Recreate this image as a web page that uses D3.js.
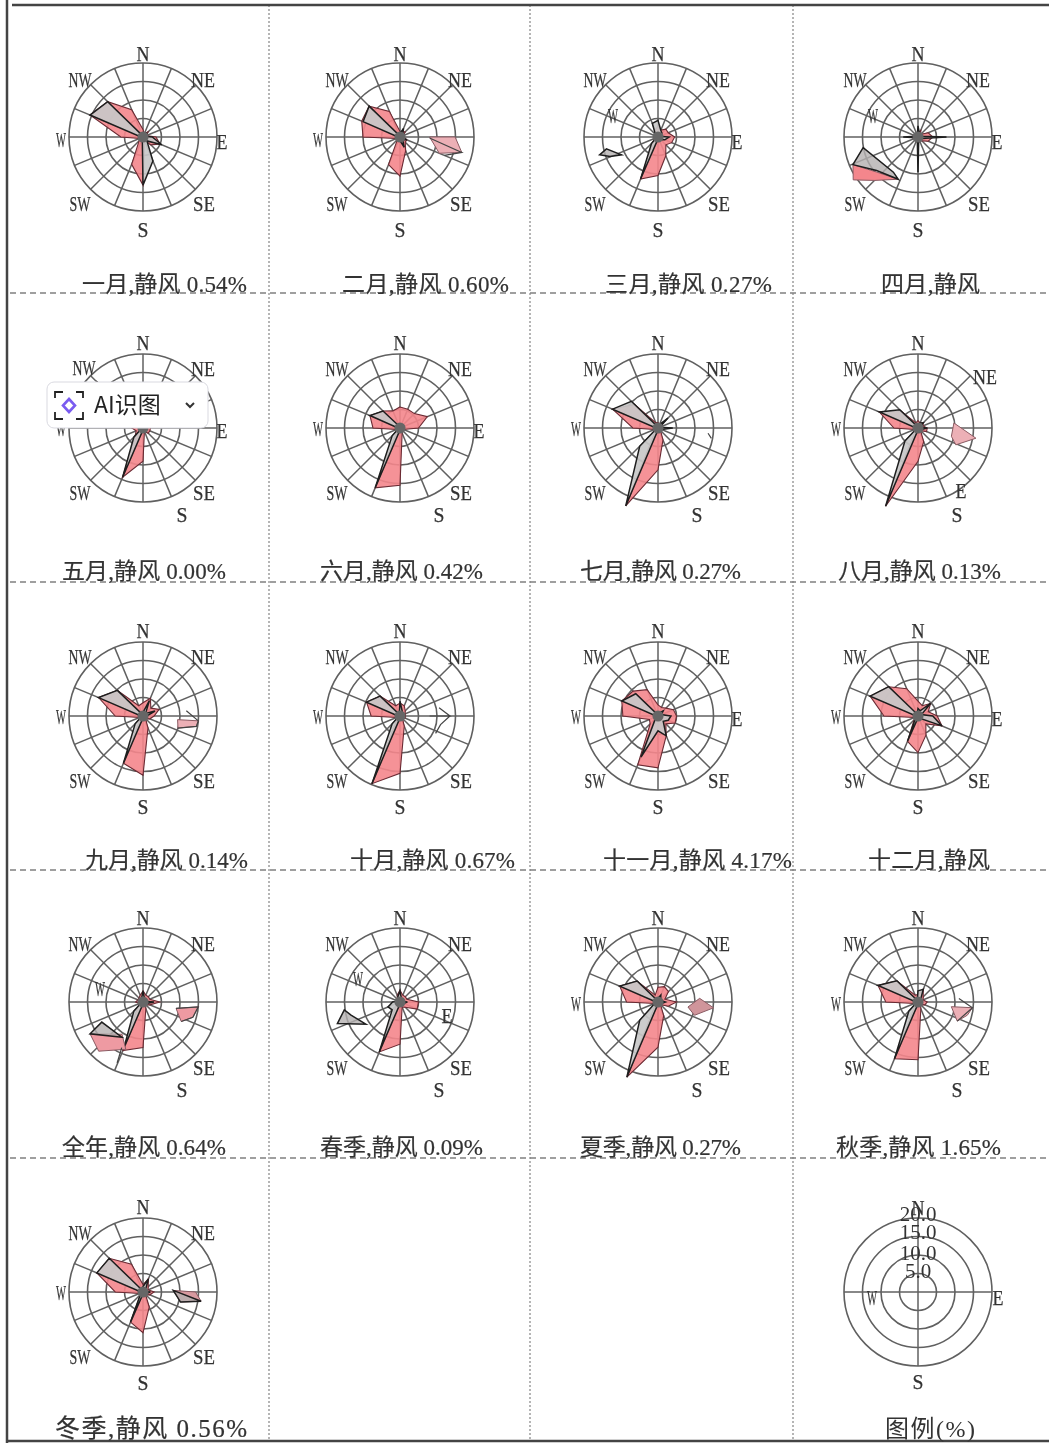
<!DOCTYPE html>
<html lang="zh">
<head>
<meta charset="UTF-8">
<title>风玫瑰图</title>
<script src="https://cdn.jsdelivr.net/npm/d3@7"></script>
<style>
  html, body { margin: 0; padding: 0; background: #fff; }
  svg { display: block; }
</style>
</head>
<body>
<div id="chart"></div>
<script>
  // 16 wind directions, clockwise from north
  const directions = ["N","NNE","NE","ENE","E","ESE","SE","SSE","S","SSW","SW","WSW","W","WNW","NW","NNW"];
  const ringTicks = [5, 10, 15, 20];
  const legendLabels = ["20.0", "15.0", "10.0", "5.0"];

  // percent per direction
  const janPink = [2,1,2,1,3.5,5,3,1,13,8,1.5,1,6,15.5,13.5,8];
  const janGray = [1,0.5,1.5,0.5,2.5,5.5,1.5,7,13,0.5,1,0.5,0.5,15.5,13.5,0.5];
  const febPink = [1.5,1.5,2,1,1,2,2,4,10.6,8.1,1,1,10,11.2,11.8,7.5];
  const febGray = [1,2.5,1,0.5,0.5,2,1,3,1,0.5,1,0.5,0.5,10.8,11.8,0.5];
  const marPink = [3,2,3,3,4.5,4,3,5.5,10.4,12.3,2,1,1,1,1,2];
  const marGray = [4.5,2,1.5,0.5,3,2,1,1,0.5,12.3,2.5,0.5,0.5,0.5,1,4];
  const aprPink = [1,2,1,3,4,3,1.5,1,2,1,1,1,2,1,1,1];
  const aprGray = [3,1,1,0.5,7.7,1,0.5,0.5,9.5,0.5,1,0.5,4,0.5,0.5,0.5];
  const mayPink = [3,2,2,2,2,2,2,1,9,14.4,3,2,3,12,17.4,6];
  const mayGray = [2,1,1,0.5,0.5,0.5,0.5,0.5,0.5,14.4,3.5,0.5,0.5,12,17.4,0.5];
  const junPink = [5.7,5.5,5.5,8,5,1,1,1.5,15.5,17.5,1,1,7.3,8.8,6.5,5];
  const junGray = [1,1,1,0.5,0.5,0.5,0.5,0.5,0.5,17.5,3,0.5,0.5,8.8,6.5,0.5];
  const julPink = [1.5,1,2,1,1,1,1,3.5,11.3,22.8,1,1,6.8,13.3,9,1.5];
  const julGray = [1,1,3.8,0.5,4,1,0.5,0.5,0.5,22.8,7,0.5,0.5,13.3,10.2,0.5];
  const augPink = [2,1.5,2,1.5,2.5,2.5,1,4,9,22.9,1,1,6.5,11.3,6.6,1.5];
  const augGray = [1,1.5,2,0.5,2.5,1,0.5,0.5,0.5,22.9,5,0.5,0.5,11.3,7,0.5];
  const sepPink = [3.6,5.2,3,4.7,3,2,1,3.5,16,13.8,1,1,7.5,13,9.8,3];
  const sepGray = [1,4.5,1,3.5,1,1,0.5,0.5,0.5,13.8,3,0.5,0.5,13,9.8,0.5];
  const octPink = [3.5,3,2,1.5,1.5,1.5,1,3,15.5,19.8,1,1,7.8,9.8,7.6,3];
  const octGray = [4,1.5,1,0.5,0.5,0.5,0.5,0.5,0.5,19.8,3,0.5,0.5,9.8,7.6,0.5];
  const novPink = [3,2.5,3,4.5,5,5,3,5.8,14,14.3,3,2.5,9.5,10.6,9.5,7.7];
  const novGray = [1,1,2,1,3.5,3,2,5.8,4,12,1,0.5,0.5,10.6,8.5,0.5];
  const decPink = [4,3,4.8,3,5.2,7,3,5.6,9.9,7.4,1.5,1,9.2,14,11.2,8];
  const decGray = [2,1.5,4.8,1,4,7,1,1,0.5,7.4,1,0.5,0.5,14,11.2,0.5];
  const yearPink = [3,2,2,2,4.5,2,1,2,12.3,14.2,2,1,2,1.5,1.5,2];
  const yearGray = [3,1,1,0.5,3,1,0.5,0.5,0.5,13.6,3.5,0.5,1,0.5,1,1];
  const springPink = [3.2,2,2,2,5,5,2,1.5,11.4,14.6,1.5,1,1,1,1,2];
  const springGray = [3,1,1,0.5,2,1,0.5,0.5,0.5,14.6,3,3.5,2,0.5,0.5,1.5];
  const summerPink = [4,4.5,4,2,5,3,1,4,12.2,22,1,1,8.5,11.2,8,2];
  const summerGray = [1,2,1,1,2,1,0.5,0.5,0.5,22,7,1,0.5,11.2,8,0.5];
  const autumnPink = [2,3.7,2,1.5,2.5,2,1,2,15.6,16.6,1,1,8.7,11.7,8.1,2];
  const autumnGray = [3,3.7,1,0.5,1,1,0.5,0.5,0.5,16.6,3.5,0.5,0.5,11.7,8.1,0.5];
  const winterPink = [2,3.8,2,1.5,3,2,1,4.4,11,8.8,1,1,7.5,13.5,12.9,8.1];
  const winterGray = [1.5,3.8,1,0.5,2,1,0.5,0.5,0.5,8.8,1,0.5,0.5,13.5,12.9,0.5];

  // loose fragments: [bearing degrees, percent]
  const febLoosePink = [[90,8],[90,14.9],[104,17.2],[112.5,11.5]];
  const febLooseLine = [[92,8],[104,17.2],[112.5,13]];
  const marLooseGray = [[253,16.5],[257,14.3],[244,11],[248,14]];
  const aprLoosePink = [[247,19.1],[236.5,21],[225,16.6],[205,12.6],[230,14.7]];
  const aprLooseGray = [[259,15.1],[247,19.1],[231,14.4],[205,12.6],[215,11.6]];
  const julLooseLine = [[96,13.6],[101,14.7]];
  const augLoosePink = [[104,9.3],[82,9.8],[100,15.9],[114,11.2]];
  const sepLoosePink = [[96,9.4],[95,15],[101,14.7],[109,10]];
  const sepLooseLine = [[83,11.8],[95,15],[101,14.7],[109,10]];
  const octLooseLine = [[90,8],[90,13.5],[78,10.8],[90,13.5],[102,11.2],[116,10.7]];
  const yearLoosePink = [[239,16.7],[222,17.9],[200,13.6],[213,10.4]];
  const yearLooseGray = [[244,12.4],[239,16.7],[211,11.1]];
  const yearLooseLine = [[205,13.6],[203,17.9]];
  const yearLooseEast = [[101,9.1],[95,15],[107,14.1],[117,11.6]];
  const springLooseGray = [[262,15.2],[251,17.9],[237,11],[255,13.7]];
  const summerLoosePink = [[99.5,8.2],[85,11.3],[96,15.1],[110,10.5]];
  const autumnLoosePink = [[98,9.1],[96,14.8],[105,13.8],[116,11.8]];
  const autumnLooseLine = [[85,11.1],[96,14.8],[116,11.8]];
  const winterLoosePink = [[87,8.2],[90,14.2],[99,15.9],[105,10.5]];
  const winterLooseDark = [[87,8.2],[99,15.9],[105,10.5]];

  const captions = ["一月,静风 0.54%","二月,静风 0.60%","三月,静风 0.27%","四月,静风",
    "五月,静风 0.00%","六月,静风 0.42%","七月,静风 0.27%","八月,静风 0.13%",
    "九月,静风 0.14%","十月,静风 0.67%","十一月,静风 4.17%","十二月,静风",
    "全年,静风 0.64%","春季,静风 0.09%","夏季,静风 0.27%","秋季,静风 1.65%",
    "冬季,静风 0.56%"];

  // layout
  const width = 1049, height = 1443;
  const colX = [143, 400, 658, 918];
  const rowY = [137, 428, 716, 1002, 1292];
  const labelRowShift = [-1, -3, -3, -2, -3];
  const R = 74;
  const captionSpan = [[82,247],[342,509],[605,772],[881,980],
    [62,226],[320,483],[580,741],[838,1001],
    [85,248],[350,515],[603,792],[868,990],
    [62,226],[320,483],[580,741],[836,1001],
    [55,247]];
  const captionY = [292, 579, 868, 1155, 1437];
  const labelBase = { N:[0,-83], NE:[60,-57], SE:[61,67], S:[0,93], SW:[-63,67], W:[-82,3], NW:[-63,-57] };
  const labelE = [79,5], sShift = [39,89];

  const panels = [
    { pink: janPink, gray: janGray, labels: { E: labelE } },
    { pink: febPink, gray: febGray, loosePink: [febLoosePink], looseLine: [febLooseLine] },
    { pink: marPink, gray: marGray, looseGray: [marLooseGray], labels: { E: labelE, W: [-45,-21] } },
    { pink: aprPink, gray: aprGray, loosePink: [aprLoosePink], looseFill: "#f4868c", looseGray: [aprLooseGray], labels: { E: labelE, W: [-45,-21] } },
    { pink: mayPink, gray: mayGray, labels: { E: labelE, S: sShift, NW: [-59,-58] } },
    { pink: junPink, gray: junGray, labels: { E: labelE, S: sShift } },
    { pink: julPink, gray: julGray, looseLine: [julLooseLine], labels: { S: sShift } },
    { pink: augPink, gray: augGray, loosePink: [augLoosePink], labels: { S: sShift, NE: [67,-49], SE: null, E: [43,65] } },
    { pink: sepPink, gray: sepGray, loosePink: [sepLoosePink], looseLine: [sepLooseLine] },
    { pink: octPink, gray: octGray, looseLine: [octLooseLine] },
    { pink: novPink, gray: novGray, labels: { E: labelE } },
    { pink: decPink, gray: decGray, labels: { E: labelE } },
    { pink: yearPink, gray: yearGray, loosePink: [yearLoosePink, yearLooseEast], looseFill: "#ee9aa2", looseGray: [yearLooseGray], looseLine: [yearLooseLine, yearLooseEast], labels: { S: sShift, SW: null, W: [-43,-12] } },
    { pink: springPink, gray: springGray, looseGray: [springLooseGray], labels: { S: sShift, W: [-42,-22], E: [47,15] } },
    { pink: summerPink, gray: summerGray, loosePink: [summerLoosePink], looseFill: "#d0959b", labels: { S: sShift } },
    { pink: autumnPink, gray: autumnGray, loosePink: [autumnLoosePink], looseLine: [autumnLooseLine], labels: { S: sShift } },
    { pink: winterPink, gray: winterGray, loosePink: [winterLoosePink], looseFill: "#d89aa0", looseGray: [winterLooseDark] }
  ];

  const svg = d3.select("#chart").append("svg")
    .attr("width", width).attr("height", height)
    .style("filter", "blur(0.4px)");

  const r = d3.scaleLinear().domain([0, 20]).range([0, R]);
  const bearing = d3.scalePoint().domain(directions).range([0, 337.5]);
  const rad = d => d * Math.PI / 180;

  // frame and cell separators
  svg.append("g").selectAll("line").data([269, 530, 793]).join("line")
    .attr("x1", d => d).attr("x2", d => d).attr("y1", 5).attr("y2", 1441)
    .attr("stroke", "#b5b5b5").attr("stroke-width", 2).attr("stroke-dasharray", "2,2");
  svg.append("g").selectAll("line").data([293, 582, 870, 1158]).join("line")
    .attr("x1", 10).attr("x2", width).attr("y1", d => d).attr("y2", d => d)
    .attr("stroke", "#808080").attr("stroke-width", 1.3).attr("stroke-dasharray", "6,4");
  svg.append("line").attr("x1", 7).attr("x2", 7).attr("y1", 0).attr("y2", 1443)
    .attr("stroke", "#444").attr("stroke-width", 2.5);
  svg.append("line").attr("x1", 12).attr("x2", width).attr("y1", 5).attr("y2", 5)
    .attr("stroke", "#444").attr("stroke-width", 2.5);
  svg.append("line").attr("x1", 7).attr("x2", width).attr("y1", 1441).attr("y2", 1441)
    .attr("stroke", "#444").attr("stroke-width", 2.5);

  const radial = d3.lineRadial().curve(d3.curveLinearClosed);
  const dirLine = vals => radial.angle((d, i) => rad(bearing(directions[i]))).radius(d => r(d))(vals);
  const looseLine = pts => radial.angle(d => rad(d[0])).radius(d => r(d[1]))(pts);
  const openLine = pts => d3.lineRadial().angle(d => rad(d[0])).radius(d => r(d[1]))(pts);

  const letterWidth = { N: 13, E: 11, S: 11, W: 10 };

  function drawLabel(g, text, pos, shift = 0) {
    g.append("text")
      .attr("x", pos[0]).attr("y", pos[1] + shift)
      .attr("text-anchor", "middle").attr("dominant-baseline", "central")
      .attr("font-family", "'Liberation Serif', serif").attr("font-size", 22)
      .attr("fill", "#333").attr("stroke", "#333").attr("stroke-width", 0.25)
      .attr("textLength", d3.sum(text.split(""), c => letterWidth[c]))
      .attr("lengthAdjust", "spacingAndGlyphs")
      .text(text);
  }

  function drawGrid(g) {
    g.append("g").selectAll("circle").data(ringTicks).join("circle")
      .attr("r", d => r(d)).attr("fill", "none")
      .attr("stroke", "#606060").attr("stroke-width", 1.6);
  }

  panels.forEach((p, i) => {
    const row = Math.floor(i / 4);
    const g = svg.append("g").attr("transform", `translate(${colX[i % 4]},${rowY[row]})`);
    drawGrid(g);
    g.append("g").selectAll("line").data(directions).join("line")
      .attr("x2", d => r(20) * Math.sin(rad(bearing(d))))
      .attr("y2", d => -r(20) * Math.cos(rad(bearing(d))))
      .attr("stroke", "#606060").attr("stroke-width", 1.5);

    g.append("path").attr("d", dirLine(p.pink))
      .attr("fill", "#f4868c").attr("fill-opacity", 0.9)
      .attr("stroke", "#6b2a33").attr("stroke-width", 1.1);
    g.append("path").attr("d", dirLine(p.gray))
      .attr("fill", "#c8c8c8").attr("fill-opacity", 0.92)
      .attr("stroke", "#1e1e1e").attr("stroke-width", 1.5);
    g.append("circle").attr("r", r(1.5)).attr("fill", "#666");

    (p.loosePink || []).forEach(s => g.append("path").attr("d", looseLine(s))
      .attr("fill", p.looseFill || "#ecb0b6").attr("stroke", "#8a5a62").attr("stroke-width", 1));
    (p.looseGray || []).forEach(s => g.append("path").attr("d", looseLine(s))
      .attr("fill", "#b4b0b0").attr("fill-opacity", 0.8)
      .attr("stroke", "#1e1e1e").attr("stroke-width", 1.5));
    (p.looseLine || []).forEach(s => g.append("path").attr("d", openLine(s))
      .attr("fill", "none").attr("stroke", "#444").attr("stroke-width", 1.2));

    const labels = Object.assign({}, labelBase, p.labels || {});
    Object.entries(labels).forEach(([text, pos]) => {
      if (pos) drawLabel(g, text, pos, labelRowShift[row]);
    });

    svg.append("text")
      .attr("x", captionSpan[i][0]).attr("y", captionY[row])
      .attr("font-family", "'Liberation Serif', 'Noto Sans CJK SC', serif")
      .attr("font-size", i === 16 ? 25 : 23).attr("fill", "#333")
      .attr("stroke", "#333").attr("stroke-width", 0.2)
      .attr("textLength", captionSpan[i][1] - captionSpan[i][0])
      .text(captions[i]);
  });

  // legend cell
  const legend = svg.append("g").attr("transform", `translate(${colX[3]},${rowY[4]})`);
  drawGrid(legend);
  legend.append("g").selectAll("line").data(["N", "E", "S", "W"]).join("line")
    .attr("x2", d => r(20) * Math.sin(rad(bearing(d))))
    .attr("y2", d => -r(20) * Math.cos(rad(bearing(d))))
    .attr("stroke", "#606060").attr("stroke-width", 1.5);
  drawLabel(legend, "N", [0,-85]);
  drawLabel(legend, "E", [80,5]);
  drawLabel(legend, "S", [0,89]);
  drawLabel(legend, "W", [-46,5]);
  legend.append("g").selectAll("text").data(legendLabels).join("text")
    .attr("x", 0).attr("y", (d, k) => [-78, -60, -39, -21][k])
    .attr("text-anchor", "middle").attr("dominant-baseline", "central")
    .attr("font-family", "'Liberation Serif', serif").attr("font-size", 21).attr("fill", "#333")
    .text(d => d);
  svg.append("text").attr("x", 885).attr("y", captionY[4])
    .attr("font-family", "'Liberation Serif', 'Noto Sans CJK SC', serif")
    .attr("font-size", 24).attr("fill", "#333").attr("textLength", 90)
    .text("图例(%)");

  // screenshot toolbar sitting over the May rose
  const chip = svg.append("g").attr("transform", "translate(47,382)");
  chip.append("rect").attr("width", 161).attr("height", 46).attr("rx", 7)
    .attr("fill", "#fff").attr("stroke", "#d9d9e0");
  const corners = ["M8,16V10H16", "M29,10H36V16", "M8,30V37H16", "M29,37H36V30"];
  chip.append("g").selectAll("path").data(corners).join("path")
    .attr("d", d => d).attr("fill", "none").attr("stroke", "#222").attr("stroke-width", 1.8);
  chip.append("path").attr("d", "M22,17L28,23.5L22,30L16,23.5Z")
    .attr("fill", "none").attr("stroke", "#7a5cf0").attr("stroke-width", 2.6);
  chip.append("text").attr("x", 47).attr("y", 31)
    .attr("font-family", "'Noto Sans CJK SC', sans-serif").attr("font-size", 23).attr("fill", "#222")
    .text("AI识图");
  chip.append("path").attr("d", "M139,21L143,25L147,21")
    .attr("fill", "none").attr("stroke", "#333").attr("stroke-width", 2);
</script>
</body>
</html>
